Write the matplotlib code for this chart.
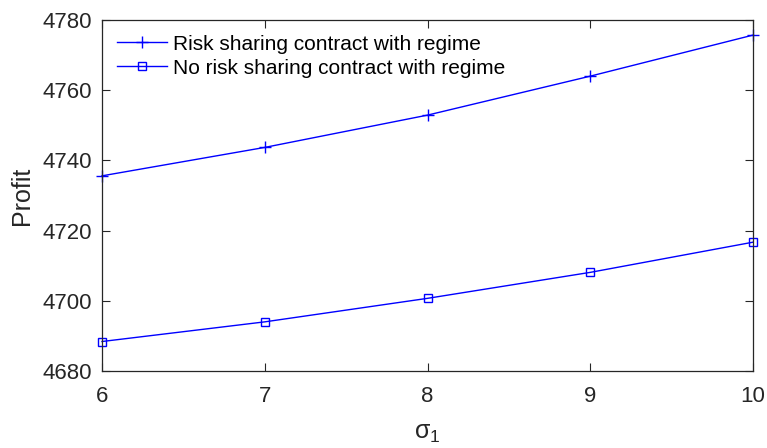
import matplotlib
matplotlib.use('Agg')
import matplotlib.pyplot as plt

plt.rcParams['font.family'] = ['Liberation Sans', 'DejaVu Sans']
plt.rcParams['mathtext.fontset'] = 'custom'
plt.rcParams['mathtext.rm'] = 'Liberation Sans'
plt.rcParams['mathtext.it'] = 'Liberation Sans'

sigma1 = [6, 7, 8, 9, 10]
profit_share = [4735.6, 4743.7, 4752.9, 4764.0, 4775.7]
profit_noshare = [4688.4, 4694.0, 4700.7, 4708.1, 4716.7]
labels = ['Risk sharing contract with regime', 'No risk sharing contract with regime']

fig = plt.figure(figsize=(7.67, 4.48), dpi=100)
ax = fig.add_axes([102/767, 1-371/448, (753-102)/767, (371-20)/448])

ax.plot(sigma1, profit_share, '-+', color='#0000ff', lw=1.0, ms=9, mew=1.0,
        label=labels[0], clip_on=False)
ax.plot(sigma1, profit_noshare, '-s', color='#0000ff', lw=1.0, ms=6, mew=1.0,
        mfc='none', label=labels[1], clip_on=False)

ax.set_xlim(6, 10)
ax.set_ylim(4680, 4780)
ax.set_xticks([6, 7, 8, 9, 10])
ax.set_yticks(range(4680, 4781, 20))

dark = '#262626'
for s in ax.spines.values():
    s.set_color(dark)
    s.set_linewidth(0.9)
ax.tick_params(direction='in', length=6, width=0.8, colors=dark,
               labelsize=16, top=True, right=True, pad=7)
ax.tick_params(axis='x', pad=11)

ax.set_xlabel(r'$\mathregular{\sigma_1}$', fontsize=18, color=dark, labelpad=10)
ax.set_ylabel('Profit', fontsize=18, color=dark, labelpad=6)

leg = ax.legend(loc='upper left', frameon=False, fontsize=15,
                handlelength=2.4, handletextpad=0.3, labelspacing=0.25,
                borderaxespad=0.3)
for t in leg.get_texts():
    t.set_color('black')

fig.savefig('out.png', dpi=100)
